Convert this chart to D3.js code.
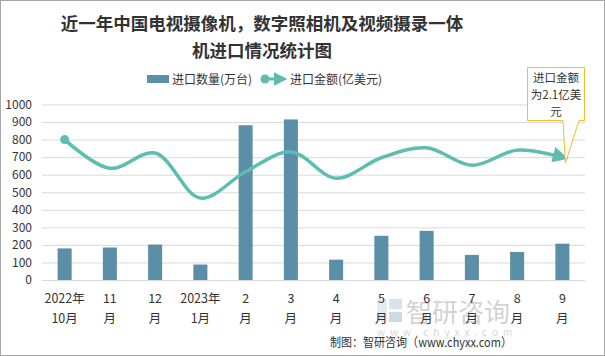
<!DOCTYPE html>
<html><head><meta charset="utf-8">
<script src="https://cdn.jsdelivr.net/npm/d3@7/dist/d3.min.js"></script>
<style>body{margin:0;background:#fff}svg{display:block}</style>
</head><body>
<script>
const categories = [["2022年","10月"],["11","月"],["12","月"],["2023年","1月"],["2","月"],["3","月"],["4","月"],["5","月"],["6","月"],["7","月"],["8","月"],["9","月"]];
const quantity = [180, 185, 202, 88, 882, 915, 116, 252, 280, 143, 160, 207];
const amount = [2.40, 1.91, 2.17, 1.40, 1.85, 2.19, 1.74, 2.09, 2.26, 1.96, 2.22, 2.10];
const yTicks = [0,100,200,300,400,500,600,700,800,900,1000];
const titleLines = ["近一年中国电视摄像机，数字照相机及视频摄录一体","机进口情况统计图"];
const legendLabels = ["进口数量(万台)","进口金额(亿美元)"];
const calloutLines = ["进口金额","为2.1亿美","元"];

const W=605,H=356;
const svg=d3.select("body").append("svg").attr("width",W).attr("height",H);
const font="'Noto Sans CJK SC','Microsoft YaHei',sans-serif";
svg.append("rect").attr("x",0.5).attr("y",0.5).attr("width",W-1).attr("height",H-1).attr("fill","#fff").attr("stroke","#a6a6a6");

const barColor="#5b8ea7", lineColor="#5dbdb2";
const x=d3.scaleBand().domain(d3.range(categories.length)).range([42,585]).paddingInner(0.69).paddingOuter(0.345);
const y=d3.scaleLinear().domain([0,1000]).range([280,104.5]);
const y2=d3.scaleLinear().domain([0,3]).range([280,104.5]);

// title
svg.append("g").selectAll("text").data(titleLines).join("text")
  .attr("x",262).attr("y",(d,i)=>30+i*27).attr("text-anchor","middle")
  .attr("font-family","'Noto Sans CJK SC',serif").attr("font-weight","bold").attr("font-size",17.5).attr("fill","#333")
  .text(d=>d);

// grid + y axis
const ya=svg.append("g").attr("transform","translate(42,0)")
  .call(d3.axisLeft(y).tickValues(yTicks).tickFormat(d3.format("d")).tickSize(-543).tickPadding(10));
ya.select(".domain").remove();
ya.selectAll(".tick line").attr("stroke","#d9d9d9").attr("stroke-width",1);
ya.selectAll(".tick text").attr("font-family",font).attr("font-size",12).attr("fill","#333");

// watermark
const wm=svg.append("g").attr("opacity",0.5);
wm.append("rect").attr("x",377).attr("y",299).attr("width",10).attr("height",23).attr("fill","#c9d8e8");
wm.append("rect").attr("x",389).attr("y",299).attr("width",13).attr("height",10).attr("fill","#b4c8dd");
wm.append("rect").attr("x",389).attr("y",312).attr("width",13).attr("height",10).attr("fill","#9ab4cf");
wm.append("text").attr("x",406).attr("y",322).attr("font-family",font).attr("font-size",26).attr("fill","#a8a8a8").text("智研咨询");
wm.append("text").attr("x",377).attr("y",336).attr("font-family",font).attr("font-size",10).attr("letter-spacing",5).attr("fill","#b0b0b0").text("www.chyxx.com");

// bars
svg.append("g").selectAll("rect").data(quantity).join("rect")
  .attr("x",(d,i)=>x(i)).attr("width",x.bandwidth())
  .attr("y",d=>y(d)).attr("height",d=>y(0)-y(d)).attr("fill",barColor);

// x labels
const xl=svg.append("g");
categories.forEach((c,i)=>{
  c.forEach((t,j)=>{
    xl.append("text").attr("x",x(i)+x.bandwidth()/2).attr("y",303+j*20).attr("text-anchor","middle")
      .attr("font-family",font).attr("font-size",12.5).attr("fill","#333").text(t);
  });
});

// line
const defs=svg.append("defs");
defs.append("marker").attr("id","arr").attr("viewBox","0 0 10 10").attr("refX",6).attr("refY",5)
  .attr("markerWidth",4.5).attr("markerHeight",4.5).attr("orient","auto")
  .append("path").attr("d","M0,0L10,5L0,10z").attr("fill",lineColor);
const line=d3.line().x((d,i)=>x(i)+x.bandwidth()/2).y(d=>y2(d)).curve(d3.curveCatmullRom.alpha(0.5));
svg.append("path").datum(amount).attr("d",line).attr("fill","none").attr("stroke",lineColor)
  .attr("stroke-width",3.5).attr("marker-end","url(#arr)");
svg.append("circle").attr("cx",x(0)+x.bandwidth()/2).attr("cy",y2(amount[0])).attr("r",4.5).attr("fill",lineColor);

// legend
svg.append("rect").attr("x",147).attr("y",75).attr("width",22).attr("height",8).attr("fill",barColor);
svg.append("text").attr("x",172).attr("y",83.5).attr("font-family",font).attr("font-size",12).attr("fill","#333").text(legendLabels[0]);
svg.append("line").attr("x1",265).attr("x2",282).attr("y1",79).attr("y2",79).attr("stroke",lineColor).attr("stroke-width",3).attr("marker-end","url(#arr)");
svg.append("circle").attr("cx",265).attr("cy",79).attr("r",4.5).attr("fill",lineColor);
svg.append("text").attr("x",290).attr("y",83.5).attr("font-family",font).attr("font-size",12).attr("fill","#333").text(legendLabels[1]);

// callout
const tipX=x(11)+x.bandwidth()/2+3, tipY=y2(amount[11])+6;
svg.append("path").attr("d",`M527.5,67.5H584.5V120.5H579L${tipX},${tipY}L563,120.5H527.5Z`)
  .attr("fill","#fff").attr("stroke","#f7bd2a").attr("stroke-width",1);
svg.append("g").selectAll("text").data(calloutLines).join("text")
  .attr("x",556).attr("y",(d,i)=>82+i*17).attr("text-anchor","middle")
  .attr("font-family",font).attr("font-size",11.5).attr("fill","#333").text(d=>d);

// footer
svg.append("text").attr("x",330).attr("y",347)
  .attr("textLength",182).attr("lengthAdjust","spacingAndGlyphs")
  .attr("font-family",font).attr("font-size",12.5).attr("fill","#333").text("制图：智研咨询（www.chyxx.com）");
</script>
</body></html>
